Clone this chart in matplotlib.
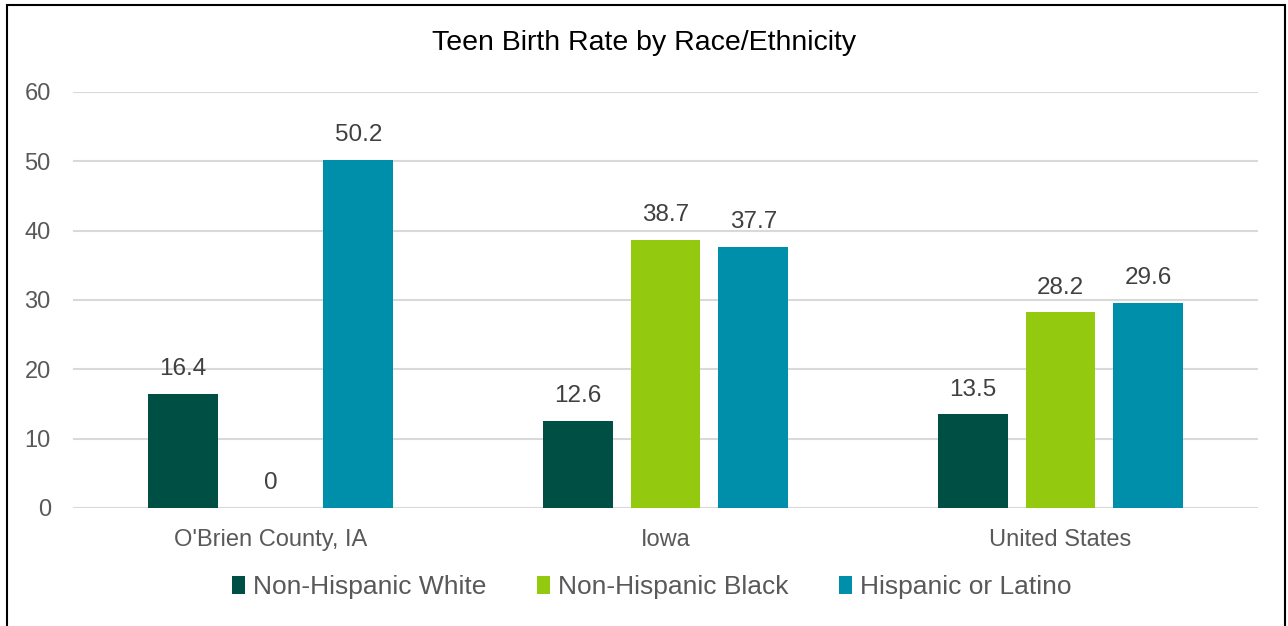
import matplotlib
matplotlib.use("Agg")
import matplotlib.pyplot as plt
from matplotlib.patches import Rectangle
import numpy as np

plt.rcParams['font.family'] = ['Liberation Sans', 'DejaVu Sans']

categories = ["O'Brien County, IA", "Iowa", "United States"]
series_names = ["Non-Hispanic White", "Non-Hispanic Black", "Hispanic or Latino"]
white = [16.4, 12.6, 13.5]
black = [0, 38.7, 28.2]
hispanic = [50.2, 37.7, 29.6]
colors = ["#004F45", "#93C90F", "#008FAA"]
yticks = [0, 10, 20, 30, 40, 50, 60]

fig = plt.figure(figsize=(12.88, 6.26), dpi=100)
ax = fig.add_axes([73/1288, 1-508/626, (1258-73)/1288, (508-92)/626])

x = np.arange(len(categories))
width = 0.177
offset = 0.222
text_color = "#595959"
for i, (vals, name, c) in enumerate(zip([white, black, hispanic], series_names, colors)):
    bars = ax.bar(x + (i-1)*offset, vals, width, color=c, label=name, zorder=3)
    for b, v in zip(bars, vals):
        ax.text(b.get_x()+b.get_width()/2, v + 2.0, f"{v:g}", ha='center', va='bottom',
                fontsize=17.5, color="#404040")

ax.set_xlim(-0.5, 2.5)
ax.set_ylim(0, 60)
ax.set_yticks(yticks)
ax.set_xticks(x)
ax.set_xticklabels(categories)
ax.tick_params(axis='both', length=0, labelsize=17, colors=text_color)
ax.tick_params(axis='y', pad=16)
ax.tick_params(axis='x', pad=15)
ax.grid(axis='y', color="#D9D9D9", linewidth=1.5, zorder=0)
for s in ax.spines.values():
    s.set_visible(False)

fig.text(0.5, 1-43/626, "Teen Birth Rate by Race/Ethnicity", ha='center', va='center',
         fontsize=20.5, color="black")

leg = fig.legend(loc='center', bbox_to_anchor=(0.506, 1-587/626), ncol=3, frameon=False,
                 fontsize=19, handlelength=0.5, handleheight=0.7, handletextpad=0.3,
                 columnspacing=1.9)
for t in leg.get_texts():
    t.set_color(text_color)

fig.patches.append(Rectangle((7/1288, -0.1), (1285-7)/1288, 1.1-5/626, transform=fig.transFigure,
                             fill=False, edgecolor='black', linewidth=1.5))

fig.savefig("out.png", dpi=100)
